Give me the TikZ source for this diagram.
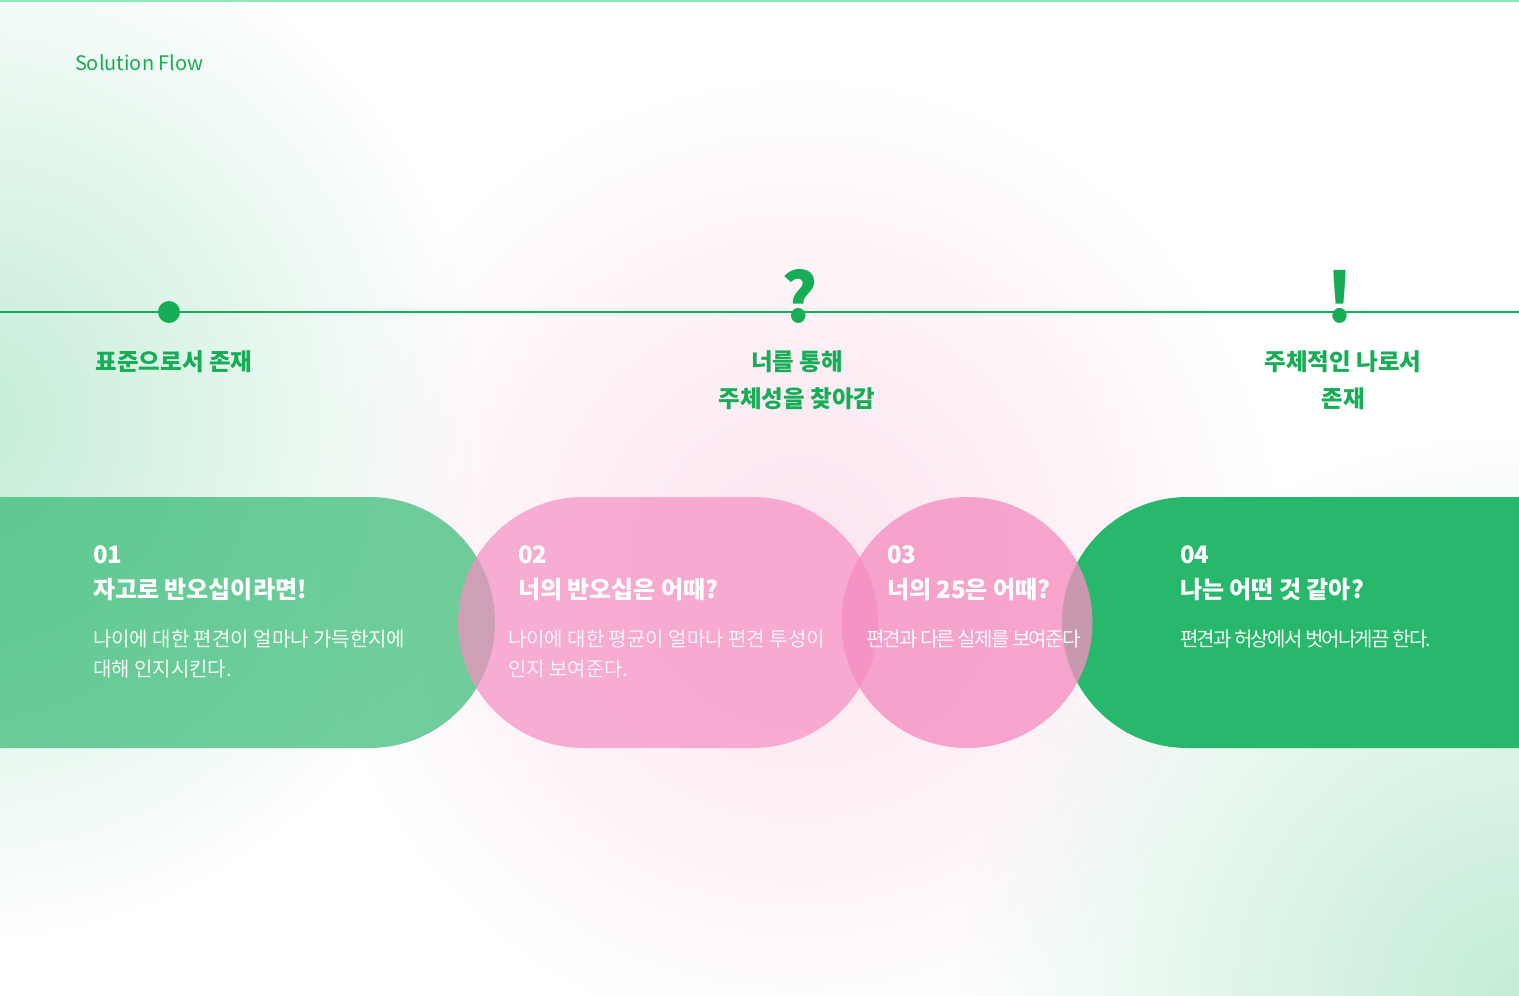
\documentclass[tikz,border=0pt]{standalone}
\usepackage{fontspec}
\setmainfont{Noto Sans CJK KR}
\usetikzlibrary{fadings}
\definecolor{brand}{HTML}{17AD57}
\definecolor{topline}{HTML}{8EE8B8}
\definecolor{cardgreenA}{HTML}{25B569}
\definecolor{cardgreenB}{HTML}{27B86B}
\definecolor{cardpink}{HTML}{F58FC1}
\definecolor{glowgreen}{HTML}{C2ECD5}
\definecolor{glowpink}{HTML}{FCE3EF}
\tikzfading[name=glowfade, inner color=transparent!0, outer color=transparent!100]
\tikzset{
  txt/.style={inner sep=0pt, outer sep=0pt},
  sol/.style={txt, anchor=base west, text=brand, font=\fontsize{20}{24}\selectfont},
  lab/.style={txt, anchor=base, text=brand, font=\bfseries\fontsize{23.5}{27}\selectfont},
  num/.style={txt, anchor=base west, text=white, font=\bfseries\fontsize{24}{28}\selectfont},
  ttl/.style={txt, anchor=base west, text=white, font=\bfseries\fontsize{24}{28}\selectfont},
  body/.style={txt, anchor=base west, text=white, text opacity=0.95, font=\fontsize{20}{24}\selectfont},
  tight/.style={body, font=\fontsize{20}{24}\selectfont\addfontfeature{LetterSpace=-9}},
  sym/.style={txt, anchor=base, text=brand, font=\bfseries\fontsize{68}{70}\selectfont},
  dotnode/.style={circle, fill=brand, minimum size=22pt, inner sep=0pt},
}
\begin{document}
\begin{tikzpicture}[x=1pt,y=-1pt]
\useasboundingbox (0,0) rectangle (1519,996);
\clip (0,0) rectangle (1519,996);
\fill[white] (0,0) rectangle (1519,996);
% background glows
\fill[glowgreen, path fading=glowfade] (-40,420) circle (520pt);
\fill[glowpink, path fading=glowfade] (800,560) circle (480pt);
\fill[glowgreen, path fading=glowfade] (1519,996) circle (560pt);
% top line
\fill[topline] (0,0) rectangle (1519,2);
% timeline
\coordinate (tlL) at (0,312);
\coordinate (tlR) at (1519,312);
\draw[brand, line width=2pt] (tlL) -- (tlR);
\node[dotnode] (dot1) at (169,312) {};
\node[sym] (qm) at (800,322) {?};
\node[sym] (ex) at (1340,322) {!};
% title
\node[sol] (title) at (75,70) {Solution Flow};
% milestone labels
\node[lab] (lab1) at (174,370) {표준으로서 존재};
\node[lab] (lab2a) at (797,370) {너를 통해};
\node[lab] (lab2b) at (797,407) {주체성을 찾아감};
\node[lab] (lab3a) at (1343,370) {주체적인 나로서};
\node[lab] (lab3b) at (1343,407) {존재};
% cards
\fill[cardgreenA, opacity=0.65, rounded corners=125.5pt] (-300,497) rectangle (495,748);
\fill[cardgreenB, rounded corners=125.5pt] (1062,497) rectangle (1900,748);
\fill[cardpink, opacity=0.70, rounded corners=125.5pt] (458,497) rectangle (878,748);
\fill[cardpink, opacity=0.78] (967,622.5) circle (125.5pt);
% card texts
\node[num] (n1) at (93,563) {01};
\node[ttl] (t1) at (93,598) {자고로 반오십이라면!};
\node[body] (b1a) at (93,646) {나이에 대한 편견이 얼마나 가득한지에};
\node[body] (b1b) at (93,676) {대해 인지시킨다.};
\node[num] (n2) at (518,563) {02};
\node[ttl] (t2) at (518,598) {너의 반오십은 어때?};
\node[body, text opacity=0.85] (b2a) at (508,646) {나이에 대한 평균이 얼마나 편견 투성이};
\node[body, text opacity=0.85] (b2b) at (508,676) {인지 보여준다.};
\node[num] (n3) at (887,563) {03};
\node[ttl] (t3) at (887,598) {너의 25은 어때?};
\node[tight] (b3) at (866,646) {편견과 다른 실제를 보여준다};
\node[num] (n4) at (1180,563) {04};
\node[ttl] (t4) at (1180,598) {나는 어떤 것 같아?};
\node[tight] (b4) at (1180,646) {편견과 허상에서 벗어나게끔 한다.};
\end{tikzpicture}
\end{document}
